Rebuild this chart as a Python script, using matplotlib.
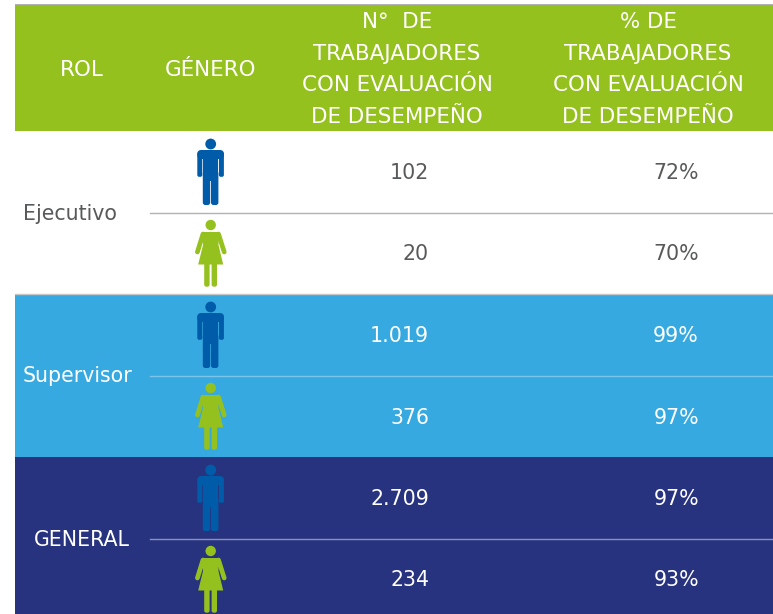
import matplotlib
matplotlib.use("Agg")
import matplotlib.pyplot as plt
from matplotlib.patches import Circle, FancyBboxPatch, Polygon, Rectangle

roles = ["Ejecutivo", "Supervisor", "GENERAL"]
generos = ["H", "M"]
trabajadores = ["102", "20", "1.019", "376", "2.709", "234"]
porcentajes = ["72%", "70%", "99%", "97%", "97%", "93%"]
header_col3 = ["N°  DE", "TRABAJADORES", "CON EVALUACIÓN", "DE DESEMPEÑO"]
header_col4 = ["% DE", "TRABAJADORES", "CON EVALUACIÓN", "DE DESEMPEÑO"]

verde = "#95c11f"
azul_hombre = "#005ca9"
celeste = "#36a9e1"
marino = "#27337f"
gris = "#58595b"
fondos = ["white", celeste, marino]
color_texto = [gris, "white", "white"]
color_linea = ["#b2b2b2", "#7cc4ea", "#8a90b8"]

plt.rcParams["font.family"] = ["DejaVu Sans"]

fig = plt.figure(figsize=(7.73, 6.14), dpi=100)
ax = fig.add_axes([0, 0, 1, 1])
ax.set_xlim(0, 773)
ax.set_ylim(614, 0)
ax.axis("off")

top = 131
alto = 81.5
fs = 14.8
fs_head = 15.4


def caja(x, y, w, h, c, r=1.8):
    ax.add_patch(FancyBboxPatch((x + r, y + r), w - 2 * r, h - 2 * r,
                                boxstyle="round,pad=%f,rounding_size=%f" % (r, r),
                                fc=c, ec="none", zorder=3))


def hombre(y0):
    c = azul_hombre
    ax.add_patch(Circle((210.7, y0 + 13), 5.4, fc=c, ec="none", zorder=3))
    caja(197.3, y0 + 19, 26.6, 9, c, 4)
    caja(197.3, y0 + 21, 5, 24.8, c)
    caja(218.9, y0 + 21, 5, 24.8, c)
    ax.add_patch(Rectangle((202.8, y0 + 20), 15.6, 30, fc=c, ec="none", zorder=3))
    caja(202.8, y0 + 40, 7.4, 34, c, 2.5)
    caja(211, y0 + 40, 7.4, 34, c, 2.5)


def mujer(y0):
    c = verde
    ax.add_patch(Circle((210.7, y0 + 94), 5.2, fc=c, ec="none", zorder=3))
    vest = [(202.5, y0 + 101), (219, y0 + 101), (218.5, y0 + 114), (223.2, y0 + 133.5),
            (198.2, y0 + 133.5), (203, y0 + 114)]
    ax.add_patch(Polygon(vest, fc=c, ec="none", zorder=3))
    ax.plot([203, 197.4], [y0 + 103, y0 + 121], color=c, lw=3.4, solid_capstyle="round", zorder=3)
    ax.plot([218.5, 224.2], [y0 + 103, y0 + 121], color=c, lw=3.4, solid_capstyle="round", zorder=3)
    caja(204.2, y0 + 130, 5.4, 25.7, c, 2.2)
    caja(211.6, y0 + 130, 5.4, 25.7, c, 2.2)


# encabezado
ax.add_patch(Rectangle((15, 4), 758, 1.2, fc="#b2b2b2", ec="none"))
ax.add_patch(Rectangle((15, 5), 758, top - 5, fc=verde, ec="none"))
ax.text(82, 68, "ROL", color="white", fontsize=fs_head, ha="center", va="center_baseline")
ax.text(210.5, 68, "GÉNERO", color="white", fontsize=fs_head, ha="center", va="center_baseline")
for i in range(4):
    ax.text(397, 20 + i * 31.7, header_col3[i], color="white", fontsize=fs_head, ha="center", va="center_baseline")
    ax.text(648, 20 + i * 31.7, header_col4[i], color="white", fontsize=fs_head, ha="center", va="center_baseline")

# filas
for i, rol in enumerate(roles):
    y0 = top + i * 2 * alto
    ax.add_patch(Rectangle((15, y0), 758, 2 * alto, fc=fondos[i], ec="none"))
    ax.plot([150, 773], [y0 + alto, y0 + alto], color=color_linea[i], lw=1)
    if i == 0:
        ax.plot([15, 773], [y0 + 2 * alto, y0 + 2 * alto], color="#c6c6c6", lw=1, zorder=2)
    x_rol = 82 if i == 2 else 23
    ax.text(x_rol, y0 + alto - 1, rol, color=color_texto[i], fontsize=fs,
            ha="center" if i == 2 else "left", va="center_baseline")
    hombre(y0)
    mujer(y0)
    for j in range(len(generos)):
        fila = i * 2 + j
        yc = y0 + alto * j + 40
        ax.text(429, yc, trabajadores[fila], color=color_texto[i], fontsize=fs, ha="right", va="center_baseline")
        ax.text(699, yc, porcentajes[fila], color=color_texto[i], fontsize=fs, ha="right", va="center_baseline")

fig.savefig("out.png", dpi=100)
